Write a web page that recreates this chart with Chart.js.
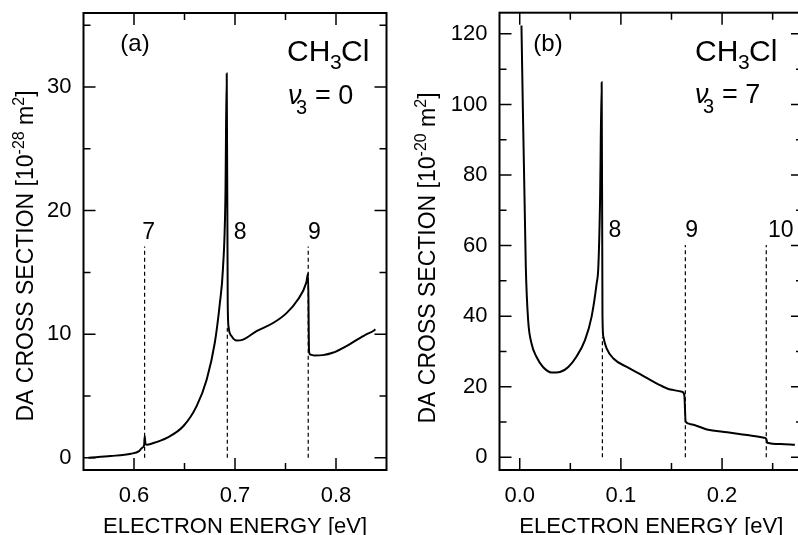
<!DOCTYPE html>
<html>
<head>
<meta charset="utf-8">
<script src="https://cdn.jsdelivr.net/npm/chart.js@4.4.0/dist/chart.umd.min.js"></script>
<style>
html, body { margin: 0; padding: 0; background: #fff; overflow: hidden; width: 798px; height: 535px; }
#panelA { position: absolute; left: 0; top: 0; }
#panelB { position: absolute; left: 400px; top: 0; }
</style>
</head>
<body>
<canvas id="panelA" width="400" height="535"></canvas>
<canvas id="panelB" width="420" height="535"></canvas>
<script>
// panel (a): v3 = 0
const energyA = [0.555, 0.577, 0.597, 0.605, 0.608, 0.6100, 0.6106, 0.6113, 0.6125, 0.618, 0.633, 0.649, 0.662, 0.672, 0.680, 0.685, 0.688, 0.6905, 0.6918, 0.6928, 0.6936, 0.6967, 0.7017, 0.708, 0.7213, 0.7377, 0.751, 0.7623, 0.7705, 0.7724, 0.7733, 0.7745, 0.7787, 0.787, 0.7967, 0.813, 0.8295, 0.8377, 0.839];
const xsecA = [0.0, 0.13, 0.32, 0.53, 0.80, 1.00, 1.75, 1.15, 1.05, 1.15, 1.62, 2.56, 4.17, 6.33, 9.3, 12.5, 15.2, 21.0, 31.1, 12.5, 10.6, 9.83, 9.48, 9.56, 10.24, 10.9, 11.7, 12.8, 14.15, 14.9, 8.6, 8.35, 8.27, 8.3, 8.49, 9.16, 9.97, 10.29, 10.4];
const thresholdsA = [0.6105, 0.6924, 0.7725];
const thresholdTopA = [17.1, 10.6, 17.1];
const levelLabelsA = ['7', '8', '9'];
const levelLabelXA = [0.6145, 0.705, 0.7785];
const xTicksA = [0.6, 0.7, 0.8];
const xMinorA = [0.65, 0.75];
const yTicksA = [0, 10, 20, 30];
const yMinorA = [5, 15, 25, 35];

// panel (b): v3 = 7
const energyB = [0.0017, 0.006, 0.0083, 0.0116, 0.0165, 0.023, 0.0314, 0.0397, 0.048, 0.056, 0.0645, 0.071, 0.076, 0.0777, 0.0794, 0.0810, 0.0818, 0.0827, 0.086, 0.0926, 0.1058, 0.119, 0.1356, 0.1488, 0.1604, 0.1627, 0.1640, 0.1687, 0.185, 0.205, 0.2248, 0.2413, 0.2437, 0.2447, 0.258, 0.272];
const xsecB = [122.4, 54, 38.9, 32.3, 28.5, 25.6, 24.05, 24.2, 25.6, 28.5, 33.2, 39.8, 49.2, 54, 72.8, 106.3, 40, 34.1, 30.8, 28, 25.6, 23.6, 20.9, 19.2, 18.6, 17.6, 10.1, 9.4, 7.9, 7.07, 6.3, 5.55, 5.2, 4.13, 3.76, 3.55];
const thresholdsB = [0.0817, 0.1637, 0.2437];
const thresholdTopB = [34, 60.2, 60.2];
const levelLabelsB = ['8', '9', '10'];
const levelLabelXB = [0.094, 0.170, 0.258];
const xTicksB = [0.0, 0.1, 0.2];
const xMinorB = [0.05, 0.15, 0.25];
const yTicksB = [0, 20, 40, 60, 80, 100, 120];
const yMinorB = [10, 30, 50, 70, 90, 110];

const FONT = '"Liberation Sans", Arial, Helvetica, sans-serif';

function drawRich(ctx, x, y, parts) {
    parts.forEach(p => {
        ctx.font = (p.italic ? 'italic ' : '') + p.size + 'px ' + FONT;
        ctx.fillText(p.t, x + (p.dx || 0), y + (p.dy || 0));
    });
}

const decor = {
    id: 'decor',
    afterDatasetsDraw(chart, args, o) {
        const ctx = chart.ctx;
        const a = chart.chartArea;
        const xs = chart.scales.x, ys = chart.scales.y;
        ctx.save();
        ctx.strokeStyle = '#000';
        ctx.fillStyle = '#000';

        // inward ticks on all four sides
        ctx.lineWidth = 1.5;
        const xt = (vals, len) => vals.forEach(v => {
            const px = xs.getPixelForValue(v);
            ctx.beginPath();
            ctx.moveTo(px, a.bottom); ctx.lineTo(px, a.bottom - len);
            ctx.moveTo(px, a.top); ctx.lineTo(px, a.top + len);
            ctx.stroke();
        });
        const yt = (vals, len) => vals.forEach(v => {
            const py = ys.getPixelForValue(v);
            ctx.beginPath();
            ctx.moveTo(a.left, py); ctx.lineTo(a.left + len, py);
            ctx.moveTo(a.right, py); ctx.lineTo(a.right - len, py);
            ctx.stroke();
        });
        xt(o.xMajor, 12); xt(o.xMinor, 7);
        yt(o.yMajor, 12); yt(o.yMinor, 7);

        ctx.lineWidth = 2;
        ctx.strokeRect(a.left, a.top, a.right - a.left, a.bottom - a.top);

        // level labels
        ctx.textAlign = 'center';
        ctx.textBaseline = 'middle';
        ctx.font = '23px ' + FONT;
        o.levels.forEach((t, i) => {
            ctx.fillText(t, xs.getPixelForValue(o.levelX[i]), ys.getPixelForValue(o.levelY));
        });
        ctx.font = '24px ' + FONT;
        ctx.fillText(o.tag, o.tagPos[0], o.tagPos[1]);

        ctx.textAlign = 'left';
        ctx.textBaseline = 'alphabetic';
        drawRich(ctx, o.molPos[0], o.molPos[1], [
            { t: 'CH', size: 30 },
            { t: '3', size: 21, dx: 43, dy: 8 },
            { t: 'Cl', size: 30, dx: 54 }
        ]);
        drawRich(ctx, o.nuPos[0], o.nuPos[1], [
            { t: 'ν', size: 27, italic: true },
            { t: '3', size: 20, dx: 8, dy: 10 },
            { t: '= ' + o.nu, size: 27, dx: 27 }
        ]);

        // x axis title
        ctx.textAlign = 'center';
        ctx.font = '22px ' + FONT;
        ctx.fillText('ELECTRON ENERGY [eV]', (a.left + a.right) / 2, 533);

        // y axis title with superscripts
        const parts = [
            { t: 'DA CROSS SECTION [10', size: 23, up: 0 },
            { t: o.exp, size: 16, up: 9 },
            { t: ' m', size: 23, up: 0 },
            { t: '2', size: 16, up: 9 },
            { t: ']', size: 23, up: 0 }
        ];
        let total = 0;
        parts.forEach(p => { ctx.font = p.size + 'px ' + FONT; p.w = ctx.measureText(p.t).width; total += p.w; });
        ctx.translate(o.yTitle[0], o.yTitle[1]);
        ctx.rotate(-Math.PI / 2);
        ctx.textAlign = 'left';
        let cx = -total / 2;
        parts.forEach(p => {
            ctx.font = p.size + 'px ' + FONT;
            ctx.fillText(p.t, cx, -p.up);
            cx += p.w;
        });
        ctx.restore();
    }
};

function makePanel(id, p) {
    const datasets = [{
        data: p.energy.map((e, i) => ({ x: e, y: p.xsec[i] })),
        borderColor: '#000',
        borderWidth: 2,
        pointRadius: 0,
        cubicInterpolationMode: 'monotone',
        fill: false
    }];
    p.thresholds.forEach((t, i) => {
        datasets.push({
            data: [{ x: t, y: 0 }, { x: t, y: p.thresholdTop[i] }],
            borderColor: '#000',
            borderWidth: 1.2,
            borderDash: [4, 3],
            pointRadius: 0,
            fill: false
        });
    });

    return new Chart(document.getElementById(id), {
        type: 'line',
        data: { datasets: datasets },
        plugins: [decor],
        options: {
            responsive: false,
            animation: false,
            events: [],
            layout: { padding: { top: p.padTop, right: p.padRight, left: 0, bottom: 0 } },
            scales: {
                x: {
                    type: 'linear',
                    min: p.xMin,
                    max: p.xMax,
                    afterBuildTicks: s => { s.ticks = p.xTicks.map(v => ({ value: v })); },
                    afterFit: s => { s.height = 65; s.paddingLeft = 0; s.paddingRight = 0; },
                    grid: { display: false, drawTicks: false },
                    border: { display: false },
                    ticks: {
                        padding: 13,
                        color: '#000',
                        font: { family: FONT, size: 22 },
                        callback: v => v.toFixed(1)
                    }
                },
                y: {
                    type: 'linear',
                    min: p.yMin,
                    max: p.yMax,
                    afterBuildTicks: s => { s.ticks = p.yTicks.map(v => ({ value: v })); },
                    afterFit: s => { s.width = p.yWidth; s.paddingTop = 0; s.paddingBottom = 0; },
                    grid: { display: false, drawTicks: false },
                    border: { display: false },
                    ticks: {
                        padding: 12,
                        color: '#000',
                        font: { family: FONT, size: 22 },
                        callback: v => String(v)
                    }
                }
            },
            plugins: {
                legend: { display: false },
                tooltip: { enabled: false },
                decor: {
                    xMajor: p.xTicks, xMinor: p.xMinor,
                    yMajor: p.yTicks, yMinor: p.yMinor,
                    levels: p.levels, levelX: p.levelX, levelY: p.levelY,
                    tag: p.tag, tagPos: p.tagPos,
                    molPos: p.molPos, nuPos: p.nuPos, nu: p.nu,
                    exp: p.exp, yTitle: p.yTitle
                }
            }
        }
    });
}

makePanel('panelA', {
    energy: energyA, xsec: xsecA,
    thresholds: thresholdsA, thresholdTop: thresholdTopA,
    xMin: 0.55, xMax: 0.85, yMin: -1, yMax: 36,
    xTicks: xTicksA, xMinor: xMinorA, yTicks: yTicksA, yMinor: yMinorA,
    yWidth: 83.5, padTop: 13, padRight: 13.5,
    levels: levelLabelsA, levelX: levelLabelXA, levelY: 18.2,
    tag: '(a)', tagPos: [135, 44],
    molPos: [287, 61], nuPos: [288, 104], nu: '0',
    exp: '-28', yTitle: [33, 256]
});

makePanel('panelB', {
    energy: energyB, xsec: xsecB,
    thresholds: thresholdsB, thresholdTop: thresholdTopB,
    xMin: -0.02, xMax: 0.28, yMin: -3.6, yMax: 126,
    xTicks: xTicksB, xMinor: xMinorB, yTicks: yTicksB, yMinor: yMinorB,
    yWidth: 99.5, padTop: 12.7, padRight: 17,
    levels: levelLabelsB, levelX: levelLabelXB, levelY: 64.3,
    tag: '(b)', tagPos: [148, 44],
    molPos: [295, 61], nuPos: [295, 103], nu: '7',
    exp: '-20', yTitle: [35, 258]
});
</script>
</body>
</html>
